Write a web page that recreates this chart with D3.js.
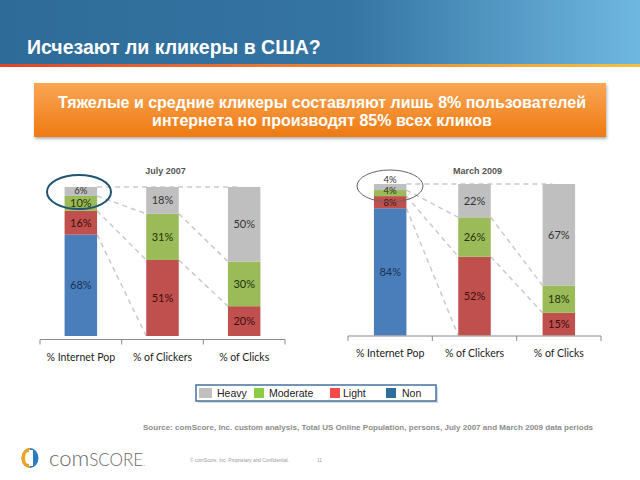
<!DOCTYPE html>
<html><head><meta charset="utf-8">
<script src="https://cdn.jsdelivr.net/npm/d3@7"></script>
<style>html,body{margin:0;padding:0;background:#fff;}svg{display:block;}</style>
</head><body>
<svg id="c" width="640" height="480"></svg>
<script>
// ---- data ----
const title = "Исчезают ли кликеры в США?";
const bannerLines = ["Тяжелые и средние кликеры составляют лишь 8% пользователей", "интернета но производят 85% всех кликов"];
const categories = ["% Internet Pop", "% of Clickers", "% of Clicks"];
const segments = ["Non", "Light", "Moderate", "Heavy"]; // bottom to top
const legendOrder = ["Heavy", "Moderate", "Light", "Non"];
const periods = ["July 2007", "March 2009"];
const july2007 = { Non: [68, 0, 0], Light: [16, 51, 20], Moderate: [10, 31, 30], Heavy: [6, 18, 50] };
const march2009 = { Non: [84, 0, 0], Light: [8, 52, 15], Moderate: [4, 26, 18], Heavy: [4, 22, 67] };
const sourceText = "Source:  comScore, Inc. custom analysis, Total US Online Population, persons, July 2007 and March 2009 data periods";

const svg = d3.select("#c");
const defs = svg.append("defs");

// header
const hg = defs.append("linearGradient").attr("id", "hg").attr("x1", 0).attr("x2", 1).attr("y1", 0).attr("y2", 0);
hg.append("stop").attr("offset", "0%").attr("stop-color", "#2e6b99");
hg.append("stop").attr("offset", "55%").attr("stop-color", "#3575a3");
hg.append("stop").attr("offset", "100%").attr("stop-color", "#6fb8e2");
const lg = defs.append("linearGradient").attr("id", "lg").attr("x1", 0).attr("x2", 1);
lg.append("stop").attr("offset", "0%").attr("stop-color", "#e0452a");
lg.append("stop").attr("offset", "100%").attr("stop-color", "#f3c040");
svg.append("rect").attr("x", 0).attr("y", 0).attr("width", 640).attr("height", 64).attr("fill", "url(#hg)");
svg.append("rect").attr("x", 0).attr("y", 64).attr("width", 640).attr("height", 3).attr("fill", "url(#lg)");
svg.append("text").attr("x", 27).attr("y", 54).text(title)
  .attr("font-family", "Arial, 'Liberation Sans', sans-serif").attr("font-weight", "bold")
  .attr("font-size", 19.5).attr("fill", "#fff");

// banner
const og = defs.append("linearGradient").attr("id", "og").attr("x1", 0).attr("x2", 0).attr("y1", 0).attr("y2", 1);
og.append("stop").attr("offset", "0%").attr("stop-color", "#f9a654");
og.append("stop").attr("offset", "100%").attr("stop-color", "#ef7a12");
const sh = defs.append("filter").attr("id", "sh").attr("x", "-5%").attr("y", "-20%").attr("width", "110%").attr("height", "150%");
sh.append("feDropShadow").attr("dx", 1).attr("dy", 2).attr("stdDeviation", 1.5).attr("flood-color", "#000").attr("flood-opacity", 0.3);
svg.append("rect").attr("x", 34).attr("y", 83).attr("width", 572).attr("height", 54)
  .attr("fill", "url(#og)").attr("filter", "url(#sh)");
svg.selectAll("text.ban").data(bannerLines).enter().append("text").attr("class", "ban")
  .attr("x", 322).attr("y", (d, i) => 108 + i * 18).attr("text-anchor", "middle").text(d => d)
  .attr("font-family", "Arial, 'Liberation Sans', sans-serif").attr("font-weight", "bold")
  .attr("font-size", 16).attr("fill", "#fff");

// charts
const colors = { Non: "#4a7ebb", Light: "#c0504d", Moderate: "#9bbb59", Heavy: "#bfbfbf" };
const textColors = { Non: "#1b3150", Light: "#3d0d0d", Moderate: "#1f3208", Heavy: "#333333" };

const charts = [
  { data: july2007, period: periods[0], x0: 40, x1: 285, yTop: 187, yBot: 336, axisY: 339.5, ellipse: { cx: 79, cy: 192, rx: 32, ry: 17, stroke: "#1f5570", w: 2 } },
  { data: march2009, period: periods[1], x0: 348, x1: 601, yTop: 184, yBot: 335.5, axisY: 336, ellipse: { cx: 390, cy: 186, rx: 33, ry: 16, stroke: "#666", w: 1 } }
];

const stack = d3.stack().keys(segments);

charts.forEach(ch => {
  const rows = categories.map((c, i) => { const r = { cat: c }; segments.forEach(s => r[s] = ch.data[s][i]); return r; });
  const series = stack(rows);
  const step = (ch.x1 - ch.x0) / 3;
  const pi = 1 - 32.5 / step;
  const x = d3.scaleBand().domain(categories).range([ch.x0, ch.x1]).paddingInner(pi).paddingOuter(pi / 2);
  const y = d3.scaleLinear().domain([0, 100]).range([ch.yBot, ch.yTop]);
  const g = svg.append("g");

  // connecting dashed lines (behind bars)
  const lines = g.append("g").attr("stroke", "#cacaca").attr("stroke-width", 1.5).attr("stroke-dasharray", "5,4").attr("fill", "none");
  lines.append("line").attr("x1", x(categories[0]) + x.bandwidth()).attr("x2", x(categories[2]) + x.bandwidth() * 0.3)
    .attr("y1", y(100)).attr("y2", y(100));
  ["Heavy", "Moderate", "Light"].forEach(k => {
    const s = series.find(d => d.key === k);
    for (let i = 0; i < 2; i++) {
      const a = s[i][0], b = s[i + 1][0];
      if (i === 1 && a === 0) continue;
      lines.append("line")
        .attr("x1", x(categories[i]) + x.bandwidth()).attr("y1", y(a))
        .attr("x2", x(categories[i + 1])).attr("y2", y(b));
    }
  });

  // bars
  series.forEach(s => {
    g.append("g").attr("fill", colors[s.key]).selectAll("rect").data(s).enter().append("rect")
      .attr("x", (d, i) => x(categories[i])).attr("width", x.bandwidth())
      .attr("y", d => y(d[1])).attr("height", d => y(d[0]) - y(d[1]));
  });

  // labels, nudged upward so that small segments do not collide
  categories.forEach((c, i) => {
    let prevTop = Infinity;
    series.forEach(s => {
      const d = s[i];
      const v = d[1] - d[0];
      if (v <= 0) return;
      const fs = v < 10 ? 9.5 : 11;
      const cy = y((d[0] + d[1]) / 2);
      const t = g.append("text").attr("x", x(c) + x.bandwidth() / 2).attr("y", cy + fs * 0.36)
        .attr("text-anchor", "middle").text(v + "%")
        .attr("font-family", "Lato, 'Open Sans', sans-serif").attr("font-size", fs)
        .attr("fill", textColors[s.key]);
      let bb = t.node().getBBox();
      if (bb.y + bb.height > prevTop - 0.2) {
        const shift = bb.y + bb.height - (prevTop - 0.2);
        t.attr("y", cy + fs * 0.36 - shift);
        bb = t.node().getBBox();
      }
      prevTop = bb.y;
    });
  });

  // axis
  const axis = d3.axisBottom(x).tickSize(0).tickPadding(14);
  const ag = g.append("g").attr("transform", `translate(0,${ch.axisY})`).call(axis);
  ag.select(".domain").attr("stroke", "#8a8a8a").attr("d", `M${ch.x0},0H${ch.x1}`);
  ag.selectAll("text").attr("font-family", "Lato, 'Open Sans', sans-serif").attr("font-size", 10.5).attr("fill", "#222");
  g.append("g").selectAll("line").data(d3.range(4)).enter().append("line")
    .attr("x1", i => ch.x0 + i * step).attr("x2", i => ch.x0 + i * step)
    .attr("y1", ch.axisY).attr("y2", ch.axisY + 5).attr("stroke", "#8a8a8a");

  // title
  g.append("text").attr("x", x(categories[1]) + x.bandwidth() / 2 + 3).attr("y", 174).attr("text-anchor", "middle")
    .text(ch.period).attr("font-family", "Arial, 'Liberation Sans', sans-serif").attr("font-weight", "bold")
    .attr("font-size", 9).attr("fill", "#555");

  // ellipse
  const e = ch.ellipse;
  g.append("ellipse").attr("cx", e.cx).attr("cy", e.cy).attr("rx", e.rx).attr("ry", e.ry)
    .attr("fill", "none").attr("stroke", e.stroke).attr("stroke-width", e.w);
});

// legend
const legendColors = { Heavy: "#c0c0c0", Moderate: "#8ccc44", Light: "#ef4b4b", Non: "#2f6d9e" };
const legX = [199, 254, 330, 386];
const legTX = [217, 269, 343, 402];
svg.append("rect").attr("x", 197).attr("y", 386).attr("width", 240).attr("height", 16)
  .attr("fill", "#d9d9d9").attr("transform", "translate(1,1)");
svg.append("rect").attr("x", 196).attr("y", 385).attr("width", 240).attr("height", 16)
  .attr("fill", "#fff").attr("stroke", "#44729e").attr("stroke-width", 1.5);
const li = svg.append("g").selectAll("g").data(legendOrder).enter().append("g");
li.append("rect").attr("x", (d, i) => legX[i]).attr("y", 388).attr("width", (d, i) => i === 0 ? 13 : 10).attr("height", 10)
  .attr("fill", d => legendColors[d]);
li.append("text").attr("x", (d, i) => legTX[i]).attr("y", 396.5).text(d => d)
  .attr("font-family", "Arial, 'Liberation Sans', sans-serif").attr("font-size", 10.5).attr("fill", "#222");

// source
svg.append("text").attr("x", 143).attr("y", 430).text(sourceText)
  .attr("font-family", "Arial, 'Liberation Sans', sans-serif").attr("font-weight", "bold")
  .attr("font-size", 7.5).attr("fill", "#8c8c8c").attr("textLength", 450).attr("lengthAdjust", "spacingAndGlyphs");

// footer logo
const lgG = svg.append("g");
lgG.append("ellipse").attr("cx", 30).attr("cy", 458).attr("rx", 8.5).attr("ry", 10).attr("fill", "#2b7cc0");
lgG.append("path").attr("d", "M30,448 A8.5,10 0 0,0 30,468 Z").attr("fill", "#f6a21c");
lgG.append("rect").attr("x", 29).attr("y", 450).attr("width", 4).attr("height", 16).attr("fill", "#fff");
lgG.append("ellipse").attr("cx", 28).attr("cy", 458).attr("rx", 3).attr("ry", 6).attr("fill", "#fff");
const brand = svg.append("text").attr("x", 49).attr("y", 466).attr("fill", "#6a6a6a")
  .attr("font-family", "Lato, 'Open Sans', sans-serif").attr("font-weight", 300);
brand.append("tspan").attr("font-size", 22).text("com");
brand.append("tspan").attr("font-size", 17).text("SCORE");
brand.append("tspan").attr("font-size", 8).text(".");
svg.append("text").attr("x", 190).attr("y", 462).text("© comScore, Inc.   Proprietary and Confidential.")
  .attr("font-family", "Arial, sans-serif").attr("font-size", 4.8).attr("fill", "#999");
svg.append("text").attr("x", 317).attr("y", 462).text("11")
  .attr("font-family", "Arial, sans-serif").attr("font-size", 4.8).attr("fill", "#999");
</script>
</body></html>
